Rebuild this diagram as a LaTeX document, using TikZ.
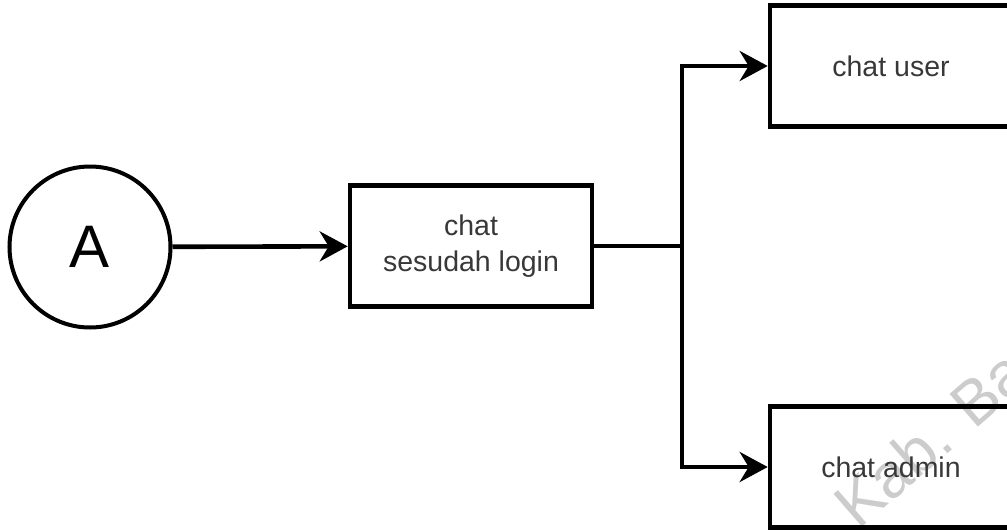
\documentclass[tikz,border=0pt]{standalone}
\usepackage{fontspec}
\setmainfont{Liberation Sans}
\usetikzlibrary{arrows.meta}
\begin{document}
\begin{tikzpicture}[x=1pt,y=-1pt,
  box/.style={draw=black, line width=4.6pt, minimum width=242pt, minimum height=121pt, inner sep=0pt, align=center, text=black!78, font=\fontsize{28.5}{36}\selectfont},
  conn/.style={line width=4.6pt, -{Stealth[length=28pt,width=30pt,inset=9pt]}},
  plain/.style={line width=4.6pt},
  watermark/.style={text=black!20, font=\fontsize{63}{63}\selectfont, rotate=41, anchor=base west}]
\useasboundingbox (0,0) rectangle (1007,530);
\clip (0,0) rectangle (1007,530);
\node[watermark] (wm) at (856,533) {Kab. Bandung};
\node[circle, draw=black, line width=4pt, minimum size=161pt, inner sep=0pt, font=\fontsize{60}{60}\selectfont] (a) at (90,247) {A};
\node[box] (login) at (471,246) {chat\\sesudah login};
\node[box] (user) at (891,66) {chat user};
\node[box] (admin) at (891,467) {chat admin};
\coordinate (j) at (682,246);
\draw[conn] (a) -- (login);
\draw[plain] (login.east) -- (j);
\draw[conn] (j) |- (user.west);
\draw[conn] (j) |- (admin.west);
\end{tikzpicture}
\end{document}
